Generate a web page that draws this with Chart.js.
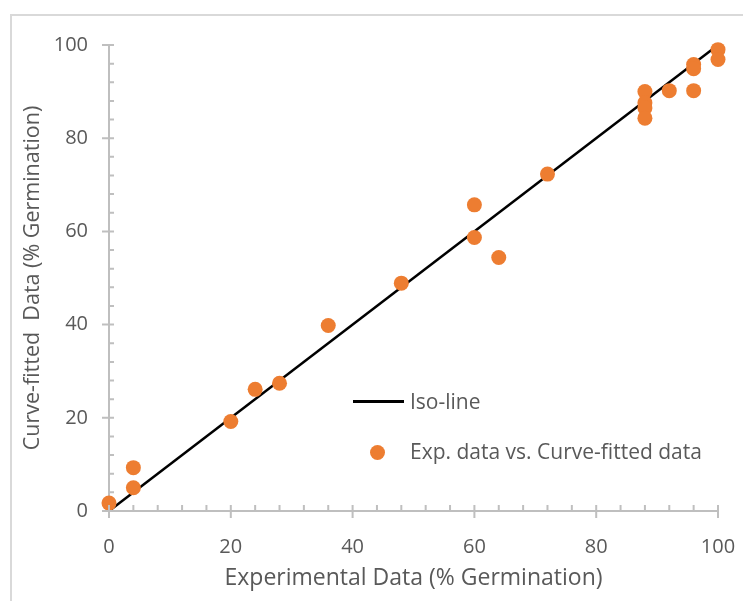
<!DOCTYPE html>
<html>
<head>
<meta charset="utf-8">
<script src="https://cdn.jsdelivr.net/npm/chart.js@4.4.1/dist/chart.umd.min.js"></script>
<style>
  html, body { margin: 0; padding: 0; background: #ffffff; }
  #wrap { position: relative; width: 743px; height: 601px; overflow: hidden; }
  #frame { position: absolute; left: 10px; top: 14px; width: 800px; height: 700px; border-left: 2px solid #d9d9d9; border-top: 2px solid #d9d9d9; box-sizing: border-box; }
  canvas { position: absolute; left: 0; top: 0; }
  .lg { position: absolute; font-family: "Open Sans", sans-serif; font-size: 21px; color: #595959; white-space: nowrap; line-height: 1; }
  #lgLine { position: absolute; left: 353px; top: 400px; width: 51px; height: 2.5px; background: #000; }
  #lgDot { position: absolute; left: 370px; top: 445px; width: 15px; height: 15px; border-radius: 50%; background: #ED7D31; }
</style>
</head>
<body>
<div id="wrap">
  <div id="frame"></div>
  <canvas id="c" width="743" height="601"></canvas>
  <div id="lgLine"></div>
  <div class="lg" id="lgT1" style="left:410px; top:391px;">Iso-line</div>
  <div id="lgDot"></div>
  <div class="lg" id="lgT2" style="left:410px; top:441px;">Exp. data vs. Curve-fitted data</div>
</div>
<script>
// ---- data ----
const expData = [0, 4, 4, 20, 24, 28, 36, 48, 60, 60, 64, 72, 88, 88, 88, 88, 92, 96, 96, 96, 100, 100];
const fittedData = [1.7, 9.3, 5.0, 19.2, 26.1, 27.4, 39.8, 48.9, 65.7, 58.7, 54.4, 72.3, 90.0, 87.6, 86.5, 84.3, 90.2, 90.2, 95.8, 94.9, 99.0, 96.9];
const isoX = [0, 100];
const isoY = [0, 100];
const tickValues = [0, 20, 40, 60, 80, 100];
const minorValues = [4, 8, 12, 16, 24, 28, 32, 36, 44, 48, 52, 56, 64, 68, 72, 76, 84, 88, 92, 96];
const xTitle = "Experimental Data (% Germination)";
const yTitle = "Curve-fitted  Data (% Germination)";
const seriesNames = ["Exp. data vs. Curve-fitted data", "Iso-line"];

const AXIS_COLOR = "#bfbfbf";
const TEXT_COLOR = "#595959";
const ORANGE = "#ED7D31";
const FONT = "'Open Sans', sans-serif";

const scatterPts = expData.map((x, i) => ({ x: x, y: fittedData[i] }));
const isoPts = isoX.map((x, i) => ({ x: x, y: isoY[i] }));

// custom tick marks (major cross the axis, minor inside)
const tickPlugin = {
  id: 'tickMarks',
  afterDraw(chart) {
    const ctx = chart.ctx;
    const xs = chart.scales.x, ys = chart.scales.y;
    const y0 = ys.getPixelForValue(0), x0 = xs.getPixelForValue(0);
    ctx.save();
    ctx.strokeStyle = AXIS_COLOR;
    ctx.lineWidth = 2;
    ctx.beginPath();
    tickValues.forEach(v => {
      const px = xs.getPixelForValue(v);
      ctx.moveTo(px, y0 - 6); ctx.lineTo(px, y0 + 7);
      const py = ys.getPixelForValue(v);
      ctx.moveTo(x0 - 7, py); ctx.lineTo(x0 + 5, py);
    });
    minorValues.forEach(v => {
      const px = xs.getPixelForValue(v);
      ctx.moveTo(px, y0 - 6); ctx.lineTo(px, y0);
      const py = ys.getPixelForValue(v);
      ctx.moveTo(x0, py); ctx.lineTo(x0 + 5, py);
    });
    ctx.stroke();
    ctx.restore();
  }
};

new Chart(document.getElementById('c'), {
  type: 'scatter',
  data: {
    datasets: [
      {
        label: seriesNames[0],
        data: scatterPts,
        backgroundColor: ORANGE,
        borderColor: ORANGE,
        pointRadius: 7.5,
        pointHoverRadius: 7.5,
        borderWidth: 0,
        clip: false,
        order: 0
      },
      {
        label: seriesNames[1],
        type: 'line',
        data: isoPts,
        borderColor: '#000000',
        borderWidth: 2.5,
        pointRadius: 0,
        showLine: true,
        fill: false,
        clip: false,
        order: 1
      }
    ]
  },
  options: {
    responsive: false,
    animation: false,
    events: [],
    layout: { padding: { left: 0, top: 45, right: 25, bottom: 0 } },
    plugins: { legend: { display: false }, tooltip: { enabled: false } },
    scales: {
      x: {
        type: 'linear', min: 0, max: 100,
        afterFit: s => { s.height = 90; s.paddingLeft = 0; s.paddingRight = 0; },
        ticks: { stepSize: 20, color: TEXT_COLOR, font: { family: FONT, size: 20 }, padding: 24 },
        grid: { display: false, drawTicks: false },
        border: { display: true, color: AXIS_COLOR, width: 2 },
        title: { display: true, text: xTitle, color: TEXT_COLOR, font: { family: FONT, size: 23 }, padding: { top: 0, bottom: 9 } }
      },
      y: {
        type: 'linear', min: 0, max: 100,
        afterFit: s => { s.width = 109; s.paddingTop = 0; s.paddingBottom = 0; },
        ticks: { stepSize: 20, color: TEXT_COLOR, font: { family: FONT, size: 20 }, padding: 21 },
        grid: { display: false, drawTicks: false },
        border: { display: true, color: AXIS_COLOR, width: 2 },
        title: { display: true, text: yTitle, color: TEXT_COLOR, font: { family: FONT, size: 21.5 }, padding: { top: 20, bottom: 0 } }
      }
    }
  },
  plugins: [tickPlugin]
});
</script>
</body>
</html>
